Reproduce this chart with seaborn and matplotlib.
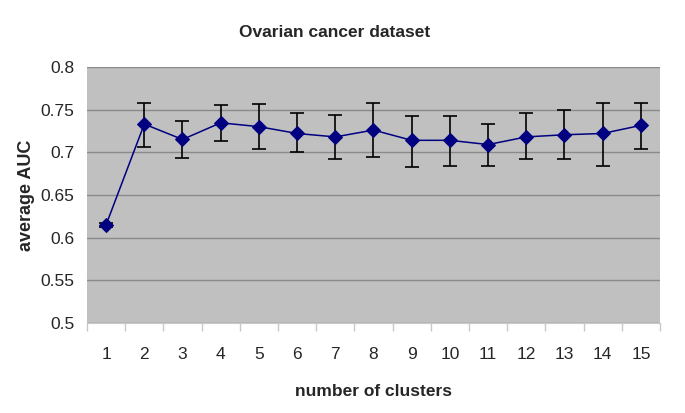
import numpy as np
import pandas as pd
import seaborn as sns
import matplotlib.pyplot as plt
from matplotlib.ticker import FixedLocator

# values
clusters = list(range(1, 16))
avg_auc = [0.615, 0.733, 0.715, 0.7345, 0.730, 0.722, 0.718, 0.726,
           0.714, 0.714, 0.709, 0.718, 0.7205, 0.722, 0.7315]
auc_low = [0.613, 0.7065, 0.693, 0.7135, 0.704, 0.700, 0.692, 0.694,
           0.683, 0.684, 0.684, 0.692, 0.692, 0.684, 0.704]
auc_high = [0.617, 0.758, 0.737, 0.755, 0.757, 0.7455, 0.7435, 0.758,
            0.743, 0.743, 0.733, 0.7455, 0.749, 0.758, 0.758]
y_ticks = [0.5, 0.55, 0.6, 0.65, 0.7, 0.75, 0.8]
y_tick_labels = ["0.5", "0.55", "0.6", "0.65", "0.7", "0.75", "0.8"]

df = pd.DataFrame({"clusters": clusters, "auc": avg_auc})

sns.set_style("white")
plt.rcParams["font.family"] = ["Liberation Sans", "DejaVu Sans"]

fig = plt.figure(figsize=(6.85, 4.13), dpi=100)
ax = fig.add_axes([0.127, 0.218, 0.8365, 0.62])
ax.set_facecolor("#c0c0c0")

# error bars first so the markers sit on top
yerr = [np.array(avg_auc) - np.array(auc_low), np.array(auc_high) - np.array(avg_auc)]
ax.errorbar(clusters, avg_auc, yerr=yerr, fmt="none", ecolor="black",
            elinewidth=1.2, capsize=5, capthick=1.2, zorder=3)

sns.lineplot(data=df, x="clusters", y="auc", ax=ax, color="#000080",
             marker="D", markersize=7, markeredgecolor="#000080",
             linewidth=1.1, zorder=4)

ax.set_xlim(0.5, 15.5)
ax.set_ylim(0.5, 0.8)
ax.set_yticks(y_ticks)
ax.set_yticklabels(y_tick_labels)
ax.grid(axis="y", color="#8a8a8a", linewidth=1)
ax.set_axisbelow(True)

ax.set_xticks(clusters)
ax.xaxis.set_minor_locator(FixedLocator(np.arange(0.5, 16, 1)))
ax.tick_params(axis="x", which="major", length=0, pad=17, labelsize=12.5)
ax.tick_params(axis="x", which="minor", length=6, color="#c8c8c8", width=1,
               direction="out")
ax.xaxis.set_ticks_position("bottom")
ax.tick_params(axis="y", length=0, pad=9, labelsize=12.5)

for side in ["left", "right", "top"]:
    ax.spines[side].set_visible(False)
ax.spines["bottom"].set_color("#c8c8c8")

ax.set_xlabel("number of clusters", fontsize=12.5, fontweight="bold", labelpad=16)
ax.set_ylabel("average AUC", fontsize=13, fontweight="bold", labelpad=4)
fig.text(0.488, 0.922, "Ovarian cancer dataset", ha="center", va="center",
         fontsize=12.5, fontweight="bold")

fig.savefig("out.png", dpi=100)
